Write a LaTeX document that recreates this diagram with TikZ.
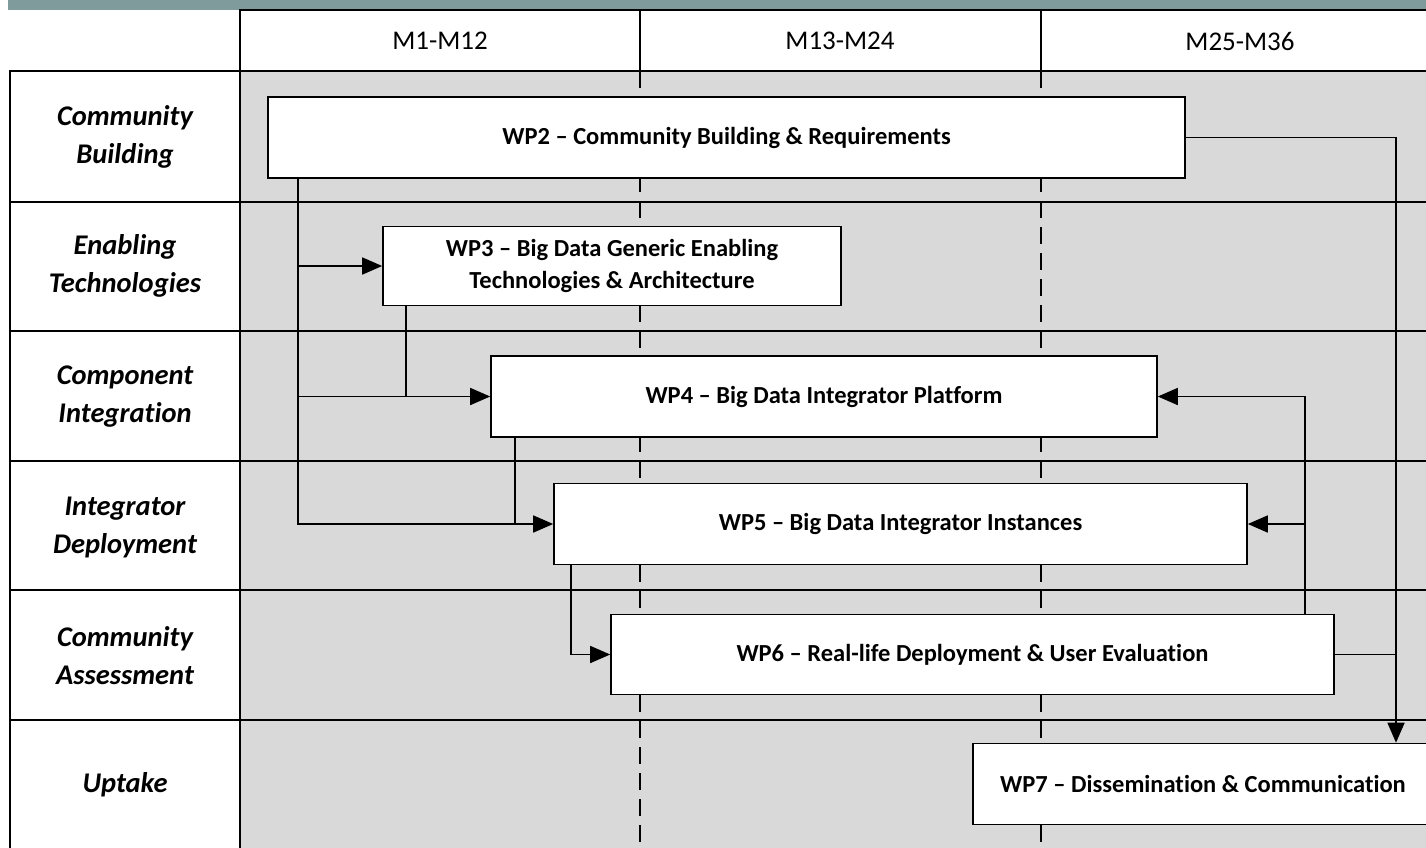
\documentclass[tikz,border=0pt]{standalone}
\usepackage{fontspec}
\setmainfont{Carlito}[Ligatures=NoCommon]
\usetikzlibrary{arrows.meta}
\definecolor{barcol}{RGB}{127,155,155}
\definecolor{areacol}{RGB}{217,217,217}
\tikzset{
  gridline/.style={line width=1.7pt, black},
  divline/.style={line width=1.4pt, black, dash pattern=on 17pt off 9pt},
  wpbox/.style={draw, line width=1.6pt, fill=white, inner sep=2pt, align=center,
    font=\fontsize{24.5}{32}\selectfont\bfseries},
  rowlabel/.style={align=center, font=\fontsize{28.5}{38}\selectfont\bfseries\itshape},
  hdr/.style={font=\fontsize{27}{30}\selectfont},
  conn/.style={line width=1.6pt, black},
  arr/.style={conn, -{Triangle[length=20pt,width=17pt]}}
}
\begin{document}
\begin{tikzpicture}[x=1pt,y=-1pt]
\clip (0,0) rectangle (1426,847);
% top bar
\fill[barcol] (8,0) rectangle (1430,9.5);
% header
\draw[gridline, fill=white] (240,10) rectangle (1440,71);
\draw[gridline] (640,10) -- (640,71);
\draw[gridline] (1041,10) -- (1041,71);
\node[hdr] (h1) at (440,41) {M1-M12};
\node[hdr] (h2) at (840,41) {M13-M24};
\node[hdr] (h3) at (1240,41) {M25-M36};
% grey area and label column
\fill[areacol] (240,71) rectangle (1440,900);
\draw[gridline, fill=white] (10,71) rectangle (240,900);
\draw[divline] (640,71) -- (640,860);
\draw[divline] (1041,71) -- (1041,860);
\foreach \yy in {71,202,331,461,590,720}{
  \draw[gridline] (10,\yy) -- (1440,\yy);
}
% row labels
\node[rowlabel] (r1) at (125,137) {Community\\Building};
\node[rowlabel] (r2) at (125,266) {Enabling\\Technologies};
\node[rowlabel] (r3) at (125,397) {Component\\Integration};
\node[rowlabel] (r4) at (125,527) {Integrator\\Deployment};
\node[rowlabel] (r5) at (125,656) {Community\\Assessment};
\node[rowlabel] (r6) at (125,785) {Uptake};
% work packages
\node[wpbox, minimum width=917pt, minimum height=81pt] (wp2) at (726.5,137.5) {WP2 – Community Building \& Requirements};
\node[wpbox, minimum width=458pt, minimum height=79pt] (wp3) at (612,266) {WP3 – Big Data Generic Enabling\\Technologies \& Architecture};
\node[wpbox, minimum width=666pt, minimum height=81pt] (wp4) at (824,396.5) {WP4 – Big Data Integrator Platform};
\node[wpbox, minimum width=693pt, minimum height=81pt] (wp5) at (900.5,524) {WP5 – Big Data Integrator Instances};
\node[wpbox, minimum width=723pt, minimum height=80pt] (wp6) at (972.5,654.5) {WP6 – Real-life Deployment \& User Evaluation};
\node[wpbox, minimum width=460pt, minimum height=81pt] (wp7) at (1203,784) {WP7 – Dissemination \& Communication};
% bus coordinates
\coordinate (busA) at (298,0);
\coordinate (busB) at (406,0);
\coordinate (busC) at (515,0);
\coordinate (busD) at (571,0);
\coordinate (busE) at (1396,0);
\coordinate (busF) at (1305,0);
% connectors
\draw[arr] (busA |- wp2.south) |- (wp5.west);
\draw[arr] (busA |- wp3.west) -- (wp3.west);
\draw[arr] (busA |- wp4.west) -- (wp4.west);
\draw[conn] (busB |- wp3.south) -- (busB |- wp4.west);
\draw[conn] (busC |- wp4.south) -- (busC |- wp5.west);
\draw[arr] (busD |- wp5.south) |- (wp6.west);
\draw[arr] (wp2.east) -| (busE |- wp7.north);
\draw[conn] (wp6.east) -- (busE |- wp6.east);
\draw[arr] (busF |- wp6.north) |- (wp4.east);
\draw[arr] (busF |- wp5.east) -- (wp5.east);
\end{tikzpicture}
\end{document}
